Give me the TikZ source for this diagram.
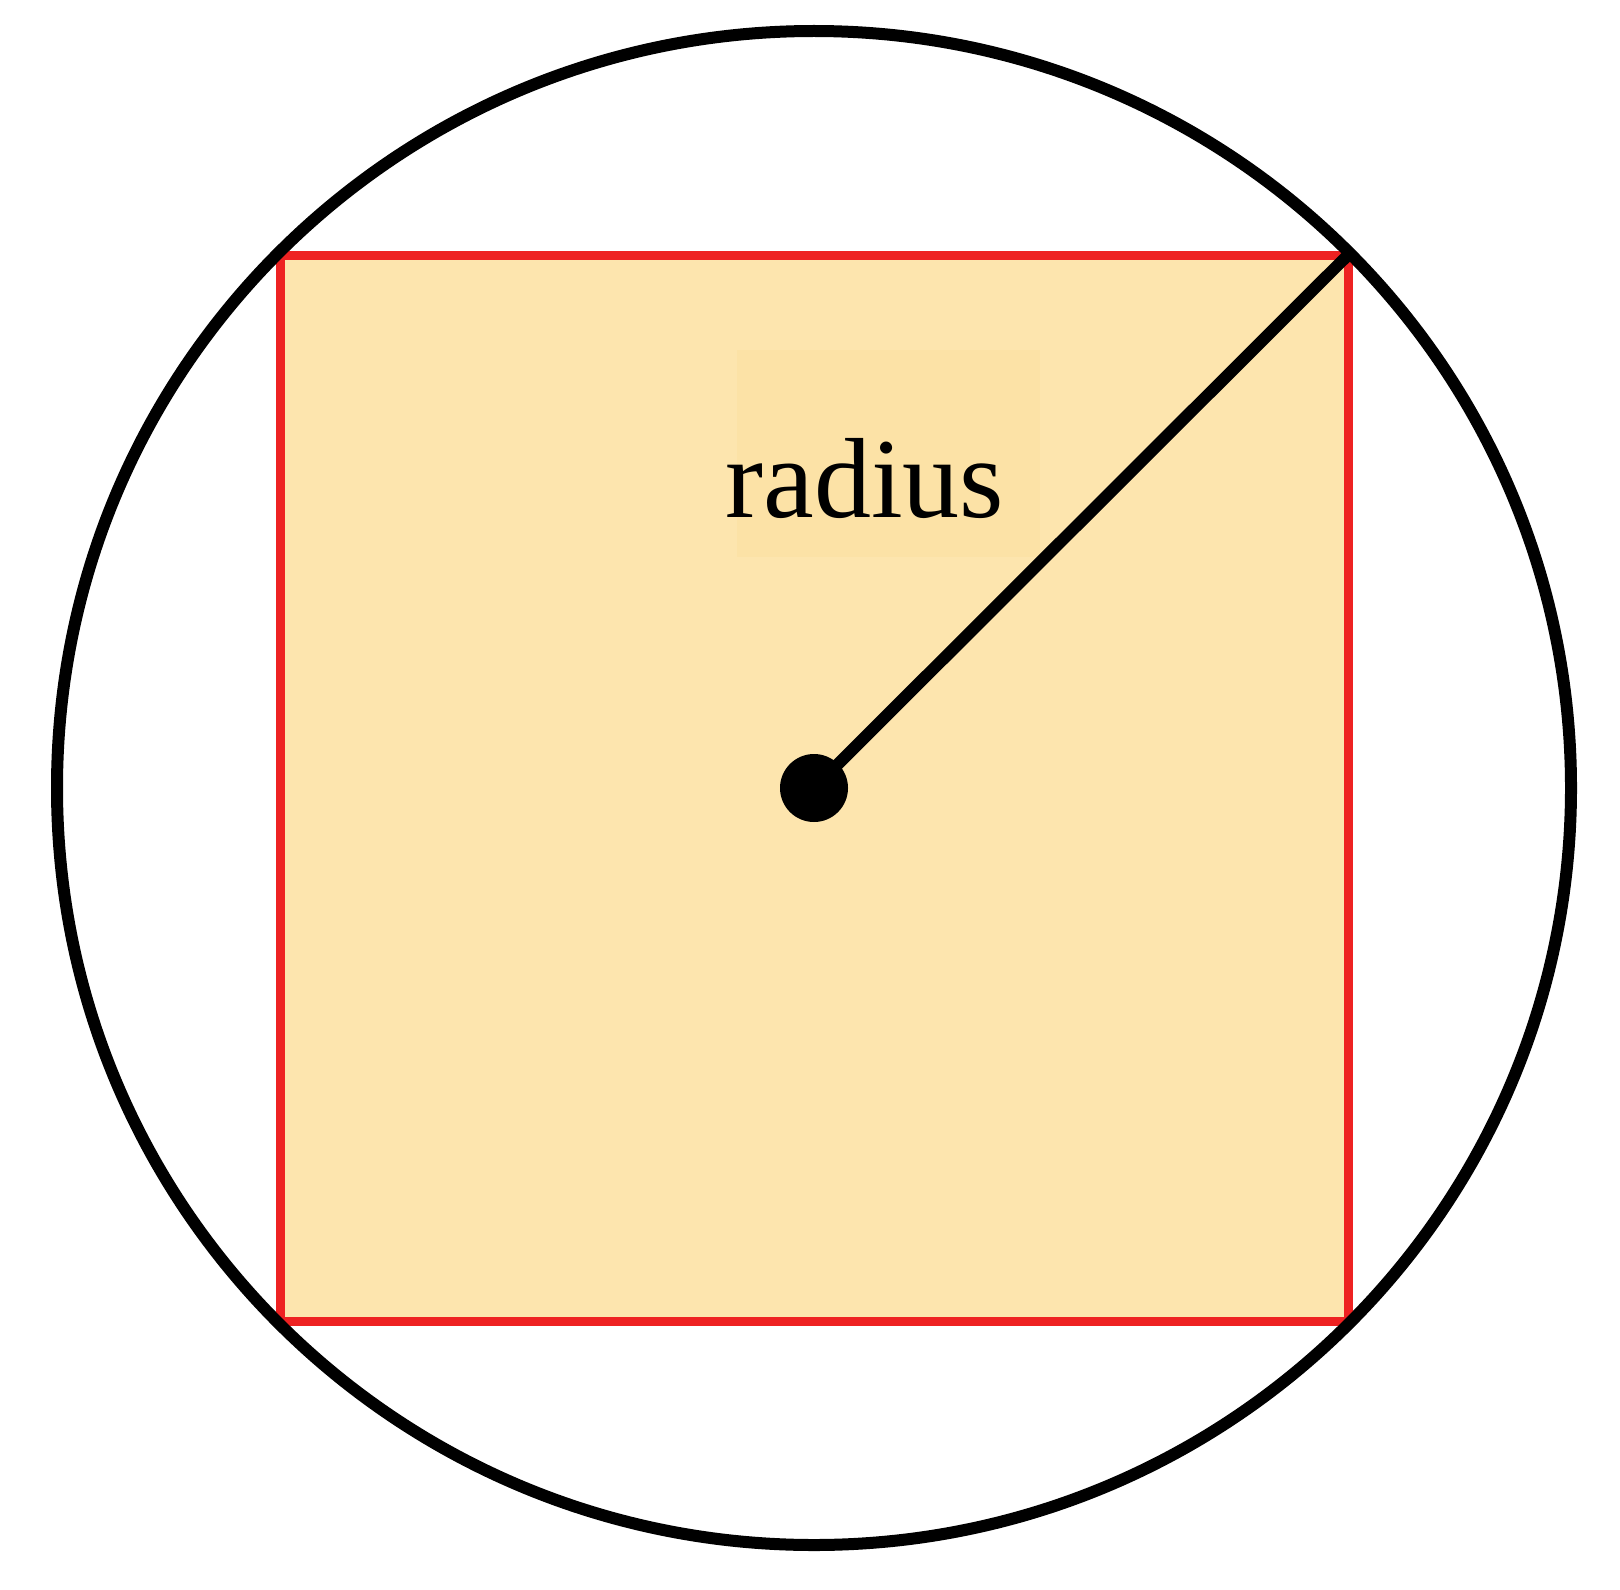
\documentclass[tikz,border=0pt]{standalone}
\usepackage{fontspec}
\setmainfont{Liberation Serif}
\definecolor{sqfill}{HTML}{FDE5AE}
\definecolor{lblfill}{HTML}{FCE2A6}
\definecolor{sqred}{HTML}{EE2222}
\begin{document}
\begin{tikzpicture}[x=0.5pt,y=-0.5pt,
  circ/.style={draw=black,line width=6pt},
  sq/.style={draw=sqred,fill=sqfill,line width=4.5pt},
  rline/.style={draw=black,line width=6pt},
  lbl/.style={font=\fontsize{57}{60}\selectfont,text=black,inner sep=0pt}]
\useasboundingbox (0,0) rectangle (1620,1589);
\fill[white] (0,0) rectangle (1620,1589);
\coordinate (C) at (814,788);
\coordinate (BL) at (280,1321);
\coordinate (TR) at (1348,255);
\draw[sq] (BL) rectangle (TR);
\fill[lblfill] (737,350) rectangle (1040,557);
\draw[circ] (C) circle[radius=378.5pt];
\node[lbl,anchor=base] (label) at (865,517) {radius};
\draw[rline,line cap=round] (C) -- (TR);
\node[circle,fill=black,minimum size=34pt,inner sep=0pt] (dot) at (C) {};
\end{tikzpicture}
\end{document}
